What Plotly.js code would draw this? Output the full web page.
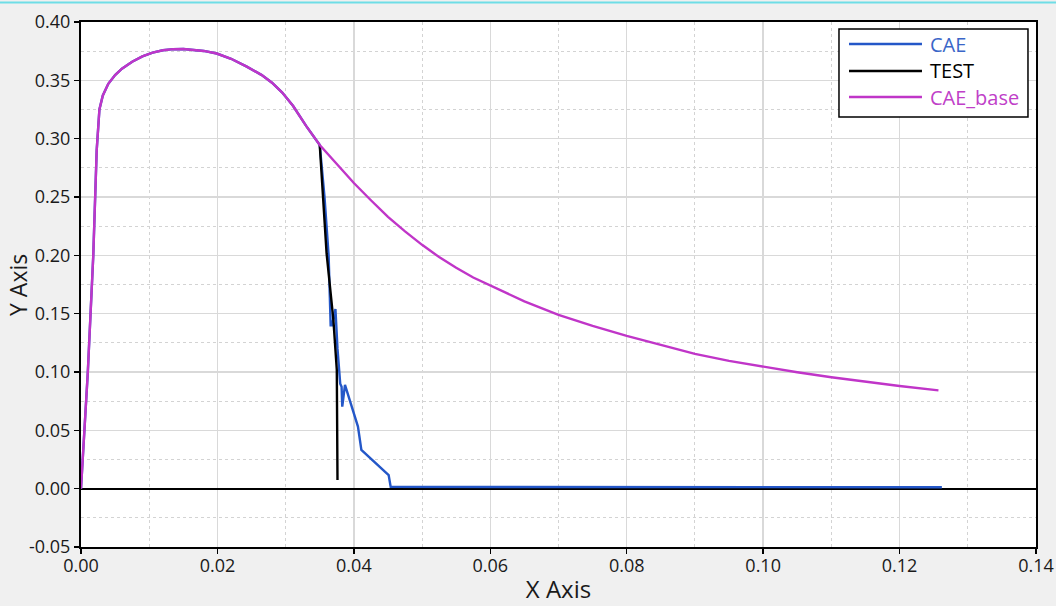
<!DOCTYPE html>
<html>
<head>
<meta charset="utf-8">
<script src="https://cdn.plot.ly/plotly-3.0.1.min.js"></script>
<style>
html,body{margin:0;padding:0;background:#f0f0f0;}
#chart{width:1056px;height:606px;}
</style>
</head>
<body>
<div id="chart"></div>
<script>
// CAE_base (magenta)
const baseX = [0, 0.0010, 0.0018, 0.0023, 0.0027, 0.0032, 0.0040, 0.0050, 0.0060, 0.0075, 0.0090, 0.0105, 0.0120, 0.0135, 0.0150, 0.0165, 0.0180, 0.0199, 0.0220, 0.0243, 0.0265, 0.0280, 0.0295, 0.0311, 0.0330, 0.0350, 0.0375, 0.0400, 0.0425, 0.0450, 0.0475, 0.0500, 0.0525, 0.0550, 0.0575, 0.0600, 0.0650, 0.0700, 0.0750, 0.0800, 0.0850, 0.0900, 0.0950, 0.1000, 0.1050, 0.1100, 0.1150, 0.1200, 0.1257];
const baseY = [0, 0.10, 0.20, 0.29, 0.325, 0.337, 0.347, 0.3545, 0.360, 0.366, 0.3705, 0.3738, 0.3758, 0.3767, 0.3768, 0.3763, 0.3752, 0.373, 0.3685, 0.3617, 0.3545, 0.3480, 0.3395, 0.3280, 0.3110, 0.2946, 0.278, 0.262, 0.2472, 0.233, 0.2205, 0.209, 0.1985, 0.1893, 0.181, 0.174, 0.1605, 0.149, 0.1395, 0.131, 0.123, 0.1155, 0.1095, 0.1045, 0.0998, 0.0955, 0.0915, 0.0880, 0.0843];

// CAE (blue)
const caeX = [0, 0.0010, 0.0018, 0.0023, 0.0027, 0.0032, 0.0040, 0.0050, 0.0060, 0.0075, 0.0090, 0.0105, 0.0120, 0.0135, 0.0150, 0.0165, 0.0180, 0.0199, 0.0220, 0.0243, 0.0265, 0.0280, 0.0295, 0.0311, 0.0330, 0.0350, 0.0357, 0.0363, 0.0366, 0.0366, 0.0368, 0.0373, 0.0376, 0.0380, 0.0382, 0.0383, 0.0387, 0.0406, 0.0411, 0.0451, 0.0454, 0.0600, 0.0800, 0.1000, 0.1200, 0.1262];
const caeY = [0, 0.10, 0.20, 0.29, 0.325, 0.337, 0.347, 0.3545, 0.360, 0.366, 0.3705, 0.3738, 0.3758, 0.3767, 0.3768, 0.3763, 0.3752, 0.373, 0.3685, 0.3617, 0.3545, 0.3480, 0.3395, 0.3280, 0.3110, 0.2946, 0.25, 0.20, 0.153, 0.140, 0.140, 0.154, 0.12, 0.09, 0.0874, 0.0703, 0.0889, 0.0532, 0.0332, 0.0117, 0.0015, 0.0015, 0.0012, 0.0013, 0.0012, 0.0012];

// TEST (black)
const testX = [0.0350, 0.0360, 0.0370, 0.0375, 0.0376];
const testY = [0.2946, 0.2018, 0.1446, 0.1017, 0.0075];

const xTicks = [0, 0.02, 0.04, 0.06, 0.08, 0.10, 0.12, 0.14];
const xTickText = ['0.00', '0.02', '0.04', '0.06', '0.08', '0.10', '0.12', '0.14'];
const yTicks = [-0.05, 0, 0.05, 0.10, 0.15, 0.20, 0.25, 0.30, 0.35, 0.40];
const yTickText = ['-0.05', '0.00', '0.05', '0.10', '0.15', '0.20', '0.25', '0.30', '0.35', '0.40'];

const seriesNames = ['CAE', 'TEST', 'CAE_base'];
const seriesColors = ['#2457c8', '#000000', '#c035c8'];
const legendTextColors = ['#3a66c8', '#000000', '#c040c8'];

const traces = [
  {x: caeX, y: caeY, name: seriesNames[0], mode: 'lines', line: {color: seriesColors[0], width: 2.4}},
  {x: testX, y: testY, name: seriesNames[1], mode: 'lines', line: {color: seriesColors[1], width: 2.4}},
  {x: baseX, y: baseY, name: seriesNames[2], mode: 'lines', line: {color: seriesColors[2], width: 2.4}}
];

const FONT = '"Open Sans", "Noto Sans", sans-serif';

// custom legend (paper coords)
const shapes = [
  {type: 'line', xref: 'paper', yref: 'paper', x0: -0.09, x1: 1.03, y0: 1.037, y1: 1.037, line: {color: '#6fdde6', width: 2}},
  {type: 'rect', xref: 'paper', yref: 'paper', x0: 0.7937, x1: 0.9916, y0: 0.819, y1: 0.9867, fillcolor: '#ffffff', line: {color: '#000000', width: 1.5}, layer: 'above'}
];
const annotations = [
  {xref: 'paper', yref: 'paper', x: -0.0665, y: 0.5, xanchor: 'center', yanchor: 'middle', textangle: -90, showarrow: false, borderpad: 0, text: 'Y Axis', font: {family: FONT, size: 23, color: '#1a1a1a'}}
];
const legendY = [0.958, 0.9067, 0.857];
for (let i = 0; i < seriesNames.length; i++) {
  shapes.push({type: 'line', xref: 'paper', yref: 'paper', x0: 0.8042, x1: 0.8806, y0: legendY[i], y1: legendY[i], line: {color: seriesColors[i], width: 2.5}, layer: 'above'});
  annotations.push({xref: 'paper', yref: 'paper', x: 0.887, y: legendY[i], xanchor: 'left', yanchor: 'middle', showarrow: false, text: seriesNames[i], font: {family: FONT, size: 20, color: legendTextColors[i]}});
}

const layout = {
  width: 1056, height: 606,
  margin: {l: 81, r: 20, t: 22, b: 59},
  paper_bgcolor: '#f0f0f0',
  plot_bgcolor: '#ffffff',
  showlegend: false,
  font: {family: FONT, size: 18, color: '#1a1a1a'},
  xaxis: {
    range: [0, 0.14], tickvals: xTicks, ticktext: xTickText,
    showline: true, linecolor: '#000000', linewidth: 2, mirror: true,
    ticks: 'outside', ticklen: 5, tickcolor: '#000000', tickwidth: 1.5,
    ticklabelstandoff: -4,
    showgrid: true, gridcolor: '#d9d9d9', gridwidth: 1.5,
    minor: {dtick: 0.01, tick0: 0, showgrid: true, gridcolor: '#d3d3d3', griddash: 'dot', gridwidth: 1, ticks: ''},
    zeroline: false,
    tickfont: {family: FONT, size: 18, color: '#1a1a1a'},
    title: {text: 'X Axis', font: {family: FONT, size: 24, color: '#1a1a1a'}, standoff: 6}
  },
  yaxis: {
    range: [-0.05, 0.40], tickvals: yTicks, ticktext: yTickText,
    showline: true, linecolor: '#000000', linewidth: 2, mirror: true,
    ticks: 'outside', ticklen: 5, tickcolor: '#000000', tickwidth: 1.5,
    showgrid: true, gridcolor: '#d9d9d9', gridwidth: 1.5,
    minor: {dtick: 0.025, tick0: 0, showgrid: true, gridcolor: '#d3d3d3', griddash: 'dot', gridwidth: 1, ticks: ''},
    zeroline: true, zerolinecolor: '#000000', zerolinewidth: 2,
    tickfont: {family: FONT, size: 18, color: '#1a1a1a'}
  },
  shapes: shapes,
  annotations: annotations
};

Plotly.newPlot('chart', traces, layout, {displayModeBar: false, staticPlot: true});
</script>
</body>
</html>
